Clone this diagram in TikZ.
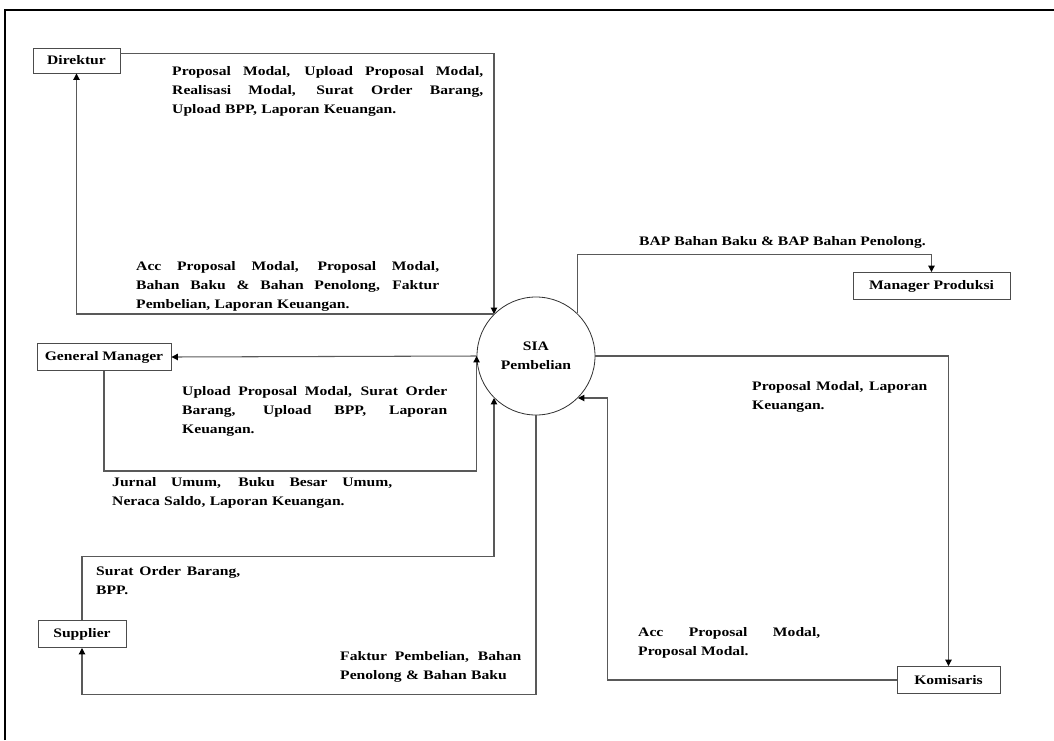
\documentclass[tikz,border=0pt]{standalone}
\usepackage{fontspec}
\setmainfont{Liberation Serif}[FakeStretch=1.2]
\usetikzlibrary{arrows.meta}
\newcommand{\rata}[2]{\makebox[#1][s]{\spaceskip=0pt\xspaceskip=0pt #2}}

\begin{document}
\begin{tikzpicture}[x=0.3mm,y=-0.3mm,
	every node/.style={font=\fontsize{11.1}{16.2}\selectfont\bfseries},
	entity/.style={draw=black!70,line width=0.8pt,minimum height=8.1mm,inner sep=0pt},
	proses/.style={circle,draw=black!80,line width=0.7pt,minimum size=35.4mm,inner sep=0pt,align=center},
	ket/.style={anchor=north west,inner sep=0pt,align=left},
	alur/.style={draw=black!65,line width=0.9pt,-{Triangle[length=5.5pt,width=5.5pt,color=black]}}]
		\useasboundingbox (0,0) rectangle (1054,740);
		\draw[line width=0.9pt] (5,740) -- (5,10) -- (1054,10);
		% proses dan entitas
		\node[proses] (sia) at (536,356) {SIA\\Pembelian};
		\node[entity,minimum width=26.1mm,minimum height=7.5mm] (dir) at (76.5,60.5) {Direktur};
		\node[entity,minimum width=40.2mm] (gm) at (104,357) {General Manager};
		\node[entity,minimum width=26.4mm] (sup) at (82,634) {Supplier};
		\node[entity,minimum width=47.1mm] (mp) at (931.5,286) {Manager Produksi};
		\node[entity,minimum width=30.9mm] (kom) at (948.5,680) {Komisaris};
		% keterangan alur data
		\node[ket,text width=93.3mm] (kDir) at (172,66) {\rata{93.3mm}{Proposal Modal, Upload Proposal Modal,}\\\rata{93.3mm}{Realisasi Modal, Surat Order Barang,}\\Upload BPP, Laporan Keuangan.};
		\node[ket,text width=90.9mm] (kDirB) at (136,261) {\rata{90.9mm}{Acc Proposal Modal, Proposal Modal,}\\\rata{90.9mm}{Bahan Baku \& Bahan Penolong, Faktur}\\Pembelian, Laporan Keuangan.};
		\node[ket] (kMp) at (639,236) {BAP Bahan Baku \& BAP Bahan Penolong.};
		\node[ket,text width=79.5mm] (kGm) at (182,386) {\rata{79.5mm}{Upload Proposal Modal, Surat Order}\\\rata{79.5mm}{Barang, Upload BPP, Laporan}\\Keuangan.};
		\node[ket,text width=84mm] (kGmB) at (112,477) {\rata{84mm}{Jurnal Umum, Buku Besar Umum,}\\Neraca Saldo, Laporan Keuangan.};
		\node[ket,text width=43.2mm] (kSup) at (96,566) {\rata{43.2mm}{Surat Order Barang,}\\BPP.};
		\node[ket,text width=54.3mm] (kSupB) at (340,651) {\rata{54.3mm}{Faktur Pembelian, Bahan}\\Penolong \& Bahan Baku};
		\node[ket,text width=52.5mm] (kKom) at (752,381) {\rata{52.5mm}{Proposal Modal, Laporan}\\Keuangan.};
		\node[ket,text width=54.6mm] (kKomB) at (638,627) {\rata{54.6mm}{Acc Proposal Modal,}\\Proposal Modal.};
		% alur
		\draw[alur] ([yshift=2mm]dir.east) -| (sia.135);
		\draw[alur] (sia.135) -| (dir.south);
		\draw[alur] (sia.46) -- ++(0,-59) -| (mp.north);
		\draw[alur] (sia.east) -| (kom.north);
		\draw[alur] (kom.west) -- ++(-289,0) |- (sia.-45);
		\draw[alur] (sia.west) -- (gm.east);
		\draw[alur] (gm.south) -- ++(0,100) -| (sia.west);
		\draw[alur] (sup.north) -- ++(0,-64) -| (sia.-135);
		\draw[alur] (sia.south) -- ++(0,279) -| (sup.south);
\end{tikzpicture}
\end{document}
